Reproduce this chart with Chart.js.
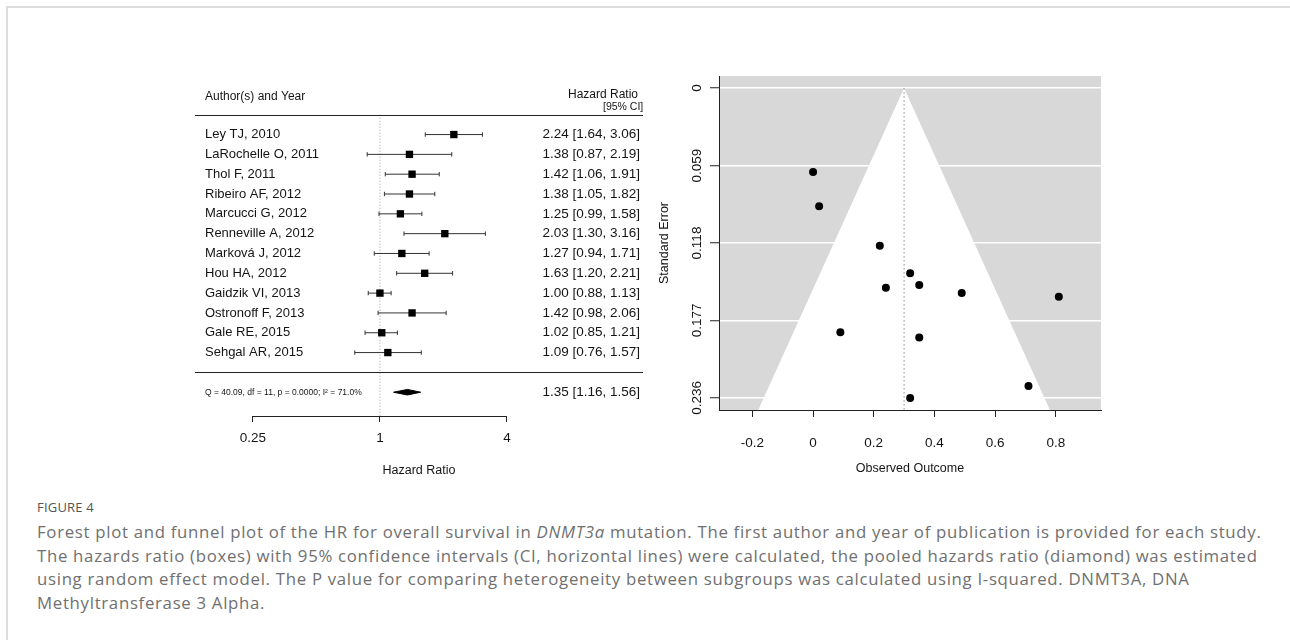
<!DOCTYPE html>
<html>
<head>
<meta charset="utf-8">
<script src="https://cdn.jsdelivr.net/npm/chart.js@4.4.1/dist/chart.umd.min.js"></script>
<style>
  html, body { margin: 0; padding: 0; background: #fff; }
  body { width: 1290px; height: 640px; position: relative; overflow: hidden; }
  .frame { position: absolute; left: 6px; top: 6px; right: 0; bottom: 0; border-top: 2px solid #dcdcdc; border-left: 2px solid #dcdcdc; }
  #forest { position: absolute; left: 140px; top: 60px; }
  #funnel { position: absolute; left: 650px; top: 60px; }
  .figlabel { position: absolute; left: 37px; top: 498px; font: 13px 'Open Sans', sans-serif; color: #555; letter-spacing: 0.2px; }
  .caption { position: absolute; left: 37px; top: 520px; font: 16.8px/23.5px 'Open Sans', sans-serif; letter-spacing: 0.7px; color: #707070; white-space: nowrap; }
</style>
</head>
<body>
<div class="frame"></div>
<canvas id="forest" width="520" height="430"></canvas>
<canvas id="funnel" width="470" height="430"></canvas>
<div class="figlabel">FIGURE 4</div>
<div class="caption">Forest plot and funnel plot of the HR for overall survival in <i>DNMT3a</i> mutation. The first author and year of publication is provided for each study.<br>The hazards ratio (boxes) with 95% confidence intervals (CI, horizontal lines) were calculated, the pooled hazards ratio (diamond) was estimated<br>using random effect model. The P value for comparing heterogeneity between subgroups was calculated using I-squared. DNMT3A, DNA<br>Methyltransferase 3 Alpha.</div>
<script>
// forest plot data
const studies = ['Ley TJ, 2010', 'LaRochelle O, 2011', 'Thol F, 2011', 'Ribeiro AF, 2012', 'Marcucci G, 2012',
  'Renneville A, 2012', 'Marková J, 2012', 'Hou HA, 2012', 'Gaidzik VI, 2013', 'Ostronoff F, 2013',
  'Gale RE, 2015', 'Sehgal AR, 2015'];
const hr = [2.24, 1.38, 1.42, 1.38, 1.25, 2.03, 1.27, 1.63, 1.00, 1.42, 1.02, 1.09];
const hrLow = [1.64, 0.87, 1.06, 1.05, 0.99, 1.30, 0.94, 1.20, 0.88, 0.98, 0.85, 0.76];
const hrHigh = [3.06, 2.19, 1.91, 1.82, 1.58, 3.16, 1.71, 2.21, 1.13, 2.06, 1.21, 1.57];
const pooledHR = [1.35, 1.16, 1.56];   // estimate, lower, upper
const hetText = 'Q = 40.09, df = 11, p = 0.0000; I\u00b2 = 71.0%';
const hrTicks = [0.25, 1, 4];

// funnel plot data
const outcome = [0.81, 0.32, 0.35, 0.32, 0.22, 0.71, 0.24, 0.49, 0.00, 0.35, 0.02, 0.09];
const stdErr = [0.159, 0.236, 0.150, 0.141, 0.120, 0.227, 0.152, 0.156, 0.064, 0.190, 0.090, 0.186];
const seTicks = [0, 0.059, 0.118, 0.177, 0.236];
const outcomeTicks = [-0.2, 0, 0.2, 0.4, 0.6, 0.8];
const pooledOutcome = 0.30;

const FONT = "'Liberation Sans', Arial, sans-serif";
const INK = '#141414';
Chart.defaults.font.family = FONT;

// ---------- forest plot ----------
const rowTop = -1.5, rowBottom = 15.2;
const diamondRow = studies.length + 2;
const diamondHalf = 0.14;
const fmt = v => v.toFixed(2);

const forestDatasets = [];
// datasets with a higher order are drawn first
forestDatasets.push({
  order: 4,
  data: [{ x: 1, y: 0 }, { x: 1, y: rowBottom }],
  showLine: true, borderColor: '#9a9a9a', borderWidth: 1, borderDash: [1, 2], pointRadius: 0
});
studies.forEach((s, i) => {
  forestDatasets.push({
    order: 3,
    data: [{ x: hrLow[i], y: i + 1 }, { x: hrHigh[i], y: i + 1 }],
    showLine: true, borderColor: '#333', borderWidth: 1,
    pointStyle: 'line', pointRotation: 90, pointRadius: 2.2,
    pointBorderColor: '#333', pointBorderWidth: 1
  });
});
forestDatasets.push({
  order: 2,
  data: hr.map((v, i) => ({ x: v, y: i + 1 })),
  pointStyle: 'rect', pointRadius: 5.2, pointBackgroundColor: '#000', pointBorderWidth: 0
});
forestDatasets.push({
  order: 1,
  data: [
    { x: pooledHR[1], y: diamondRow }, { x: pooledHR[0], y: diamondRow - diamondHalf },
    { x: pooledHR[2], y: diamondRow }, { x: pooledHR[0], y: diamondRow + diamondHalf },
    { x: pooledHR[1], y: diamondRow }
  ],
  showLine: true, fill: 'shape', backgroundColor: '#000', borderColor: '#000', borderWidth: 1, pointRadius: 0
});

const forestText = {
  id: 'forestText',
  afterDatasetsDraw(chart) {
    const { ctx, chartArea: a, scales: { x, y } } = chart;
    ctx.save();
    ctx.strokeStyle = '#222';
    ctx.lineWidth = 1;
    [0, studies.length + 1].forEach(r => {
      const py = Math.round(y.getPixelForValue(r)) + 0.5;
      ctx.beginPath(); ctx.moveTo(a.left, py); ctx.lineTo(a.right, py); ctx.stroke();
    });
    // axis line only between outer ticks
    const ay = Math.round(a.bottom) + 0.5;
    ctx.beginPath();
    ctx.moveTo(x.getPixelForValue(hrTicks[0]), ay);
    ctx.lineTo(x.getPixelForValue(hrTicks[hrTicks.length - 1]), ay);
    ctx.stroke();

    ctx.fillStyle = INK;
    ctx.textBaseline = 'middle';
    ctx.font = '12px ' + FONT;
    ctx.textAlign = 'left';
    ctx.fillText('Author(s) and Year', a.left + 10, y.getPixelForValue(-0.9));
    ctx.textAlign = 'right';
    ctx.fillText('Hazard Ratio', a.right - 5, y.getPixelForValue(-1.0));
    ctx.font = '10.5px ' + FONT;
    ctx.textAlign = 'left';
    ctx.fillText('[95% CI]', a.right - 40, y.getPixelForValue(-0.4));

    studies.forEach((s, i) => {
      const py = y.getPixelForValue(i + 1);
      ctx.font = '13px ' + FONT;
      ctx.textAlign = 'left';
      ctx.fillText(s, a.left + 10, py);
      ctx.font = '13.5px ' + FONT;
      ctx.textAlign = 'right';
      ctx.fillText(fmt(hr[i]) + ' [' + fmt(hrLow[i]) + ', ' + fmt(hrHigh[i]) + ']', a.right - 3, py);
    });
    const dy = y.getPixelForValue(diamondRow);
    ctx.fillText(fmt(pooledHR[0]) + ' [' + fmt(pooledHR[1]) + ', ' + fmt(pooledHR[2]) + ']', a.right - 3, dy);
    ctx.font = '8.5px ' + FONT;
    ctx.textAlign = 'left';
    ctx.fillText(hetText, a.left + 10, dy);
    ctx.restore();
  }
};

new Chart(document.getElementById('forest'), {
  type: 'scatter',
  data: { datasets: forestDatasets },
  options: {
    responsive: false, animation: false, devicePixelRatio: 1,
    layout: { padding: { left: 55, right: 17, top: 25, bottom: 0 } },
    plugins: { legend: { display: false }, tooltip: { enabled: false } },
    scales: {
      x: {
        type: 'logarithmic', min: 0.1329, max: 17.65,
        afterBuildTicks: s => { s.ticks = hrTicks.map(v => ({ value: v })); },
        afterFit: s => { s.height = 74; },
        grid: { drawOnChartArea: false, tickLength: 6, tickColor: '#222', tickWidth: 1 },
        border: { display: false },
        ticks: { autoSkip: false, maxRotation: 0, padding: 8, color: INK, font: { size: 13.5 }, callback: v => String(v) },
        title: { display: true, text: 'Hazard Ratio', color: INK, font: { size: 12.5 }, padding: { top: 0, bottom: 12 } }
      },
      y: { type: 'linear', reverse: true, min: rowTop, max: rowBottom, display: false }
    }
  },
  plugins: [forestText]
});

// ---------- funnel plot ----------
const seMin = -0.0092, seMax = 0.2452;
const z95 = 1.96;

const grayBack = {
  id: 'grayBack',
  beforeDraw(chart) {
    const { ctx, chartArea: a } = chart;
    ctx.save();
    ctx.fillStyle = '#d8d8d8';
    ctx.fillRect(a.left, a.top, a.right - a.left, a.bottom - a.top);
    ctx.restore();
  }
};

new Chart(document.getElementById('funnel'), {
  type: 'scatter',
  data: {
    datasets: [
      {
        order: 3,
        data: [
          { x: pooledOutcome - z95 * seMax, y: seMax },
          { x: pooledOutcome, y: 0 },
          { x: pooledOutcome + z95 * seMax, y: seMax }
        ],
        showLine: true, fill: 'shape', backgroundColor: '#fff', borderColor: 'rgba(0,0,0,0)', borderWidth: 0, pointRadius: 0
      },
      {
        order: 2,
        data: [{ x: pooledOutcome, y: 0 }, { x: pooledOutcome, y: seMax }],
        showLine: true, borderColor: '#8a8a8a', borderWidth: 1, borderDash: [1.5, 2.5], pointRadius: 0
      },
      {
        order: 1,
        data: outcome.map((v, i) => ({ x: v, y: stdErr[i] })),
        pointRadius: 4, pointBackgroundColor: '#000', pointBorderWidth: 0
      }
    ]
  },
  options: {
    responsive: false, animation: false, devicePixelRatio: 1,
    layout: { padding: { left: 0, right: 19, top: 16, bottom: 0 } },
    plugins: { legend: { display: false }, tooltip: { enabled: false } },
    scales: {
      x: {
        type: 'linear', min: -0.31, max: 0.949,
        afterBuildTicks: s => { s.ticks = outcomeTicks.map(v => ({ value: v })); },
        afterFit: s => { s.height = 80; },
        grid: { drawOnChartArea: false, tickLength: 7, tickColor: '#222', tickWidth: 1 },
        border: { display: true, color: '#222', width: 1, z: 1 },
        ticks: { autoSkip: false, maxRotation: 0, padding: 18, color: INK, font: { size: 13.5 }, callback: v => String(v) },
        title: { display: true, text: 'Observed Outcome', color: INK, font: { size: 12.5 }, padding: { top: 0, bottom: 13.5 } }
      },
      y: {
        type: 'linear', reverse: true, min: seMin, max: seMax,
        afterBuildTicks: s => { s.ticks = seTicks.map(v => ({ value: v })); },
        afterFit: s => { s.width = 69; },
        grid: { color: '#fff', lineWidth: 1.5, tickLength: 9, tickColor: '#222', tickWidth: 1 },
        border: { display: true, color: '#222', width: 1, z: 1 },
        ticks: {
          autoSkip: false, minRotation: 90, maxRotation: 90, crossAlign: 'center', padding: -4,
          color: INK, font: { size: 13.5 }, callback: v => (v === 0 ? '0' : v.toFixed(3))
        },
        title: { display: true, text: 'Standard Error', color: INK, font: { size: 12.5 }, padding: { top: 7, bottom: 0 } }
      }
    }
  },
  plugins: [grayBack]
});
</script>
</body>
</html>
